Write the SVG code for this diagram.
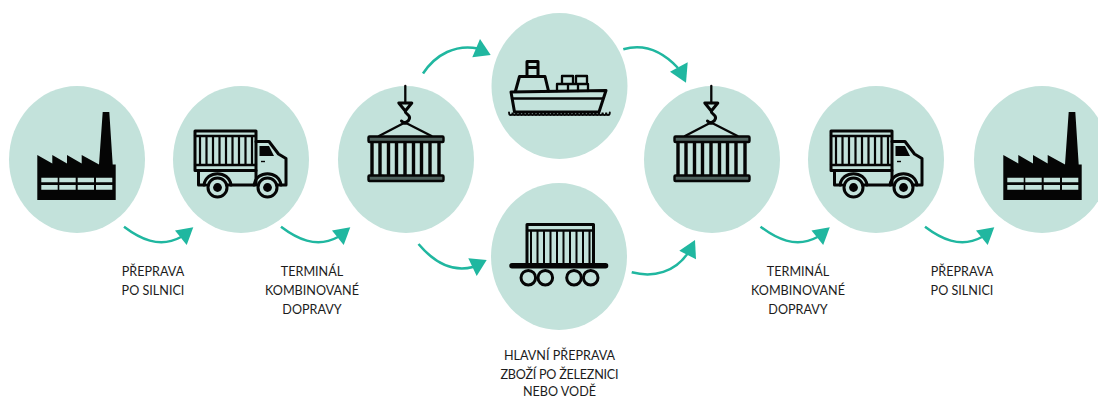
<svg xmlns="http://www.w3.org/2000/svg" width="1098" height="396" viewBox="0 0 1098 396">
<style>
.bg{fill:#c3e2db}
.line{fill:none;stroke:#050505;stroke-width:2.300;stroke-linejoin:round;stroke-linecap:round}
.thick{fill:none;stroke:#050505;stroke-width:3;stroke-linejoin:round;stroke-linecap:round}
.solid{fill:#050505}
.win{fill:#c3e2db}
.arr{fill:none;stroke:#20b7a0;stroke-width:2.500;stroke-linecap:butt}
.head{fill:#20b7a0}
text{font-family:"Lato","Noto Sans","Liberation Sans",sans-serif;font-size:12.600px;fill:#1c1c1c;text-anchor:middle}
</style>
<defs>
<g id="factory">
<path class="solid" d="M37.300 200V155L52.300 163.500V155L67 163.500V155L81.700 163.500V155L99 164.500L102.700 112H109.300L112.700 164.500H115.700V200Z"/>
<path class="win" d="M41.300 177.700h16.400v4.600h-16.400zM59.300 177.700h16.400v4.600h-16.400zM77.700 177.700h16.300v4.600h-16.300zM96 177.700h16.300v4.600h-16.300zM41.300 185h16.400v4.700h-16.400zM59.300 185h16.400v4.700h-16.400zM77.700 185h16.300v4.700h-16.300zM96 185h16.300v4.700h-16.300z"/>
</g>
<g id="truck">
<rect class="thick" x="195" y="131" width="61" height="39.500"/>
<path class="line" d="M195 136H256M195 165H256"/>
<path d="M200 136V165M206.500 136V165M213 136V165M219.500 136V165M226 136V165M232.500 136V165M239 136V165M245.500 136V165M252 136V165" fill="none" stroke="#050505" stroke-width="2.200"/>
<path class="thick" d="M256 141.500H269L278.500 154L286 158.500V185H276.500M256 170.500V185H227.500M198.500 170.500V185H206"/>
<path class="solid" d="M259.500 146H269L274 156H259.500Z"/>
<path d="M261 161.500H265" fill="none" stroke="#050505" stroke-width="1.400"/>
<path class="thick" d="M204 185C206 170 229 170 231 185M254 185C256 170 279 170 281 185"/>
<circle class="win" cx="217.500" cy="187.500" r="9.500"/>
<circle class="win" cx="267.500" cy="187.500" r="9.500"/>
<circle class="thick" cx="217.500" cy="187.500" r="9.500"/>
<circle class="thick" cx="267.500" cy="187.500" r="9.500"/>
<circle class="solid" cx="217.500" cy="187.500" r="4.400"/>
<circle class="solid" cx="267.500" cy="187.500" r="4.400"/>
</g>
<g id="container">
<path class="line" d="M405.300 86V103"/>
<path class="thick" d="M398.800 103H411.800L405.300 111Z"/>
<path class="thick" d="M405.300 111C404.500 114 410.500 114.500 409.500 118.500C408.500 122 404 124 401.500 121"/>
<path class="line" d="M379 136L403 123.500L407 123.500L431.500 136"/>
<rect x="368.500" y="136.500" width="75" height="5.500" rx="1" fill="#4f625e" stroke="#050505" stroke-width="2.400"/>
<rect x="368.500" y="175.500" width="75" height="5.500" rx="1" fill="#4f625e" stroke="#050505" stroke-width="2.400"/>
<path d="M372 142V175M380 142V175M388.500 142V175M396.500 142V175M405 142V175M413.500 142V175M421.500 142V175M430 142V175M439 142V175" fill="none" stroke="#050505" stroke-width="3.400"/>
</g>
<g id="ship">
<path class="thick" d="M511 92L606 90.500L599 112H514.500Z"/>
<path class="line" d="M512 98.500H603"/>
<path class="thick" d="M515.500 91L519.500 76.500H545L548.500 91"/>
<path class="thick" d="M527 76.500V61.500H538V76.500M527 67.500H538"/>
<path class="line" d="M557 91V84H588V91M568 84V91M578 84V91M562 84V76H573V84M576 84V76H587V84"/>
<path d="M509 112.500c0 3.500 3.600 3.500 3.600 0c0 3.500 3.600 3.500 3.600 0c0 3.500 3.600 3.500 3.600 0c0 3.500 3.600 3.500 3.600 0c0 3.500 3.600 3.500 3.600 0c0 3.500 3.600 3.500 3.600 0c0 3.500 3.600 3.500 3.600 0c0 3.500 3.600 3.500 3.600 0c0 3.500 3.600 3.500 3.600 0c0 3.500 3.600 3.500 3.600 0c0 3.500 3.600 3.500 3.600 0c0 3.500 3.600 3.500 3.600 0c0 3.500 3.600 3.500 3.600 0c0 3.500 3.600 3.500 3.600 0c0 3.500 3.600 3.500 3.600 0c0 3.500 3.600 3.500 3.600 0c0 3.500 3.600 3.500 3.600 0c0 3.500 3.600 3.500 3.600 0c0 3.500 3.600 3.500 3.600 0c0 3.500 3.600 3.500 3.600 0c0 3.500 3.600 3.500 3.600 0c0 3.500 3.600 3.500 3.600 0c0 3.500 3.600 3.500 3.600 0c0 3.500 3.600 3.500 3.600 0c0 3.500 3.600 3.500 3.600 0c0 3.500 3.600 3.500 3.600 0c0 3.500 3.600 3.500 3.600 0c0 3.500 3.600 3.500 3.600 0" fill="none" stroke="#050505" stroke-width="1.900" stroke-linecap="round"/>
</g>
<g id="wagon">
<path class="thick" d="M527 264V224.500H593.500V264"/>
<path class="line" d="M527 230.500H593.500"/>
<path d="M531 231V264M537.500 231V264M544 231V264M550.500 231V264M557 231V264M563.500 231V264M570 231V264M576.500 231V264M583 231V264M589.500 231V264" fill="none" stroke="#050505" stroke-width="2"/>
<rect class="solid" x="509.300" y="263" width="99" height="5.500" rx="2.700"/>
<circle class="thick" cx="528.300" cy="277.700" r="7.300"/>
<circle class="thick" cx="545.300" cy="277.700" r="7.300"/>
<circle class="thick" cx="574" cy="277.700" r="7.300"/>
<circle class="thick" cx="590.700" cy="277.700" r="7.300"/>
</g>
<g id="curve">
<path class="arr" d="M124 226.700C139 238 159 249 181 237"/>
<path class="head" d="M193.300 227.300L175 230.500L186.700 245Z"/>
</g>
</defs>
<g id="connectors">
<use href="#curve"/>
<use href="#curve" x="157"/>
<use href="#curve" x="636.500"/>
<use href="#curve" x="801"/>
<path class="arr" d="M423 73.500C436 54 456 44 478 48.500"/>
<path class="head" d="M490.700 55L480 39L472.300 57.300Z"/>
<path class="arr" d="M623.300 49.300C645 43 663 52 678 68"/>
<path class="head" d="M687.700 62.300L670 71.700L686 82.700Z"/>
<path class="arr" d="M418.500 244C432 260 450 273 473 267"/>
<path class="head" d="M486.700 260L468.300 258.300L476.700 276Z"/>
<path class="arr" d="M631.700 272.300C654 278 675 272 688 253"/>
<path class="head" d="M695 240L679.300 250.700L696 259.300Z"/>
</g>
<g id="factory-start"><ellipse class="bg" cx="77" cy="159.500" rx="68" ry="73.500"/><use href="#factory"/></g>
<g id="truck-start"><ellipse class="bg" cx="241" cy="159.500" rx="68" ry="73.500"/><use href="#truck"/></g>
<g id="terminal-start"><ellipse class="bg" cx="406" cy="159.500" rx="68" ry="73.500"/><use href="#container"/></g>
<g id="ship-node"><ellipse class="bg" cx="559.500" cy="86" rx="68" ry="73"/><use href="#ship"/></g>
<g id="rail-node"><ellipse class="bg" cx="559" cy="256.500" rx="68" ry="73.500"/><use href="#wagon"/></g>
<g id="terminal-end"><ellipse class="bg" cx="712" cy="159.500" rx="68" ry="73.500"/><use href="#container" x="306"/></g>
<g id="truck-end"><ellipse class="bg" cx="876" cy="159.500" rx="68" ry="73.500"/><use href="#truck" x="636"/></g>
<g id="factory-end"><ellipse class="bg" cx="1042" cy="159.500" rx="68" ry="73.500"/><use href="#factory" x="966"/></g>
<g id="labels">
<text x="153" y="275.500">PŘEPRAVA</text>
<text x="153" y="294.500">PO SILNICI</text>
<text x="312" y="275.500">TERMINÁL</text>
<text x="312" y="294.500">KOMBINOVANÉ</text>
<text x="312" y="313.500">DOPRAVY</text>
<text x="559.500" y="360">HLAVNÍ PŘEPRAVA</text>
<text x="559.500" y="378.500" textLength="118" lengthAdjust="spacing">ZBOŽÍ PO ŽELEZNICI</text>
<text x="559.500" y="395.500">NEBO VODĚ</text>
<text x="798" y="275.500">TERMINÁL</text>
<text x="798" y="294.500">KOMBINOVANÉ</text>
<text x="798" y="313.500">DOPRAVY</text>
<text x="962" y="275.500">PŘEPRAVA</text>
<text x="962" y="294.500">PO SILNICI</text>
</g>
</svg>
